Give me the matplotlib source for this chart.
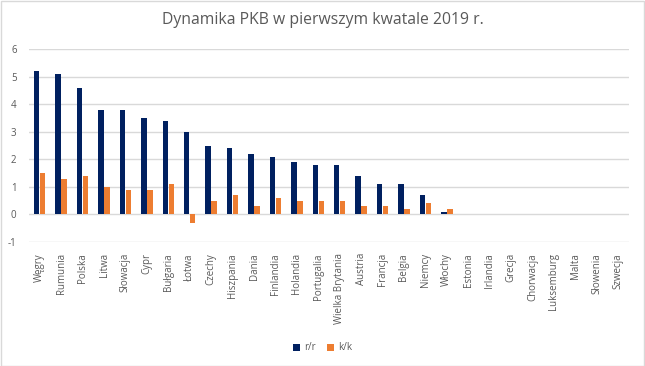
import matplotlib
matplotlib.use("Agg")
import matplotlib.pyplot as plt
import numpy as np

countries = ["Węgry", "Rumunia", "Polska", "Litwa", "Słowacja", "Cypr", "Bułgaria", "Łotwa",
             "Czechy", "Hiszpania", "Dania", "Finlandia", "Holandia", "Portugalia",
             "Wielka Brytania", "Austria", "Francja", "Belgia", "Niemcy", "Włochy",
             "Estonia", "Irlandia", "Grecja", "Chorwacja", "Luksemburg", "Malta",
             "Słowenia", "Szwecja"]
rr = [5.2, 5.1, 4.6, 3.8, 3.8, 3.5, 3.4, 3.0, 2.5, 2.4, 2.2, 2.1, 1.9, 1.8, 1.8, 1.4,
      1.1, 1.1, 0.7, 0.1, None, None, None, None, None, None, None, None]
kk = [1.5, 1.3, 1.4, 1.0, 0.9, 0.9, 1.1, -0.3, 0.5, 0.7, 0.3, 0.6, 0.5, 0.5, 0.5, 0.3,
      0.3, 0.2, 0.4, 0.2, None, None, None, None, None, None, None, None]
yticks = [-1, 0, 1, 2, 3, 4, 5, 6]
title = "Dynamika PKB w pierwszym kwatale 2019 r."

plt.rcParams['font.family'] = ['Open Sans', 'DejaVu Sans']
plt.rcParams['axes.unicode_minus'] = False
gray = "#595959"

fig = plt.figure(figsize=(6.45, 3.66), dpi=100)
fig.patches.append(plt.Rectangle((0.001, 0.001), 0.997, 0.996, transform=fig.transFigure,
                                 fill=False, edgecolor="#D9D9D9", linewidth=1))
ax = fig.add_axes([29/645, 1-242/366, 600/645, (242-49)/366])

x = np.arange(len(countries))
rr_v = np.array([np.nan if v is None else v for v in rr], dtype=float)
kk_v = np.array([np.nan if v is None else v for v in kk], dtype=float)
w = 0.25
ax.bar(x - w/2 - 0.015, rr_v, width=w, color="#002060", label="r/r", zorder=3)
ax.bar(x + w/2 + 0.015, kk_v, width=w, color="#ED7D31", label="k/k", zorder=3)

ax.set_xlim(-0.5, len(countries) - 0.5)
ax.set_ylim(-1, 6)
ax.set_yticks(yticks)
ax.grid(axis="y", color="#D9D9D9", linewidth=1, zorder=0)
for s in ax.spines.values():
    s.set_visible(False)
ax.tick_params(axis="both", length=0, colors=gray, labelsize=7)
ax.tick_params(axis="y", pad=9)
ax.set_xticks(x)
ax.set_xticklabels(countries, rotation=90, va="top", ha="center")
ax.tick_params(axis="x", pad=8)

fig.text(0.5, 1-20/366, title, ha="center", va="center", fontsize=11.3, color=gray)
fig.legend(loc="center", bbox_to_anchor=(0.5, 1-348/366), ncol=2, frameon=False,
           fontsize=7, labelcolor=gray, handlelength=0.7, handleheight=0.7,
           columnspacing=1.2, handletextpad=0.4)

fig.savefig("out.png", dpi=100)
